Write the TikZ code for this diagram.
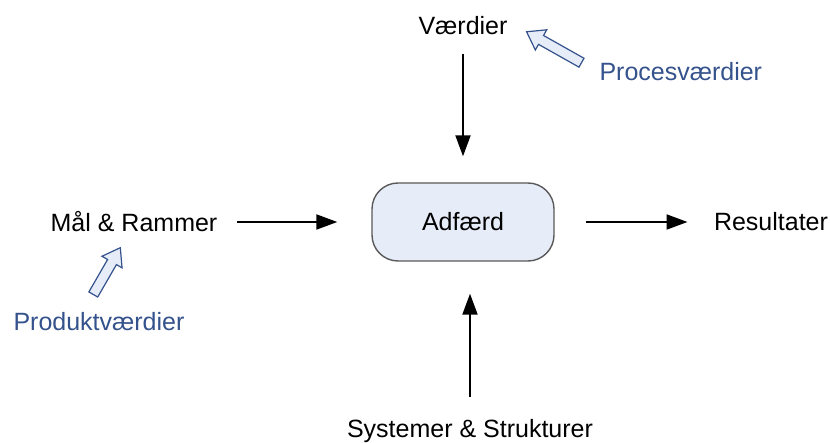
\documentclass[tikz,border=0pt]{standalone}
\usepackage{fontspec}
\setmainfont{Liberation Sans}
\usetikzlibrary{shapes,arrows.meta,positioning}

\definecolor{boxfill}{RGB}{230,236,248}
\definecolor{valblue}{RGB}{52,82,140}

\begin{document}
\begin{tikzpicture}[x=1pt,y=-1pt,
                    every node/.style={font=\fontsize{25}{30}\selectfont},
                    val/.style={anchor=base west,text=valblue},
                    flow/.style={line width=2pt,-{Triangle[length=21pt,width=15pt]}},
                    core/.style={draw=black!65,line width=1.4pt,fill=boxfill,rounded corners=26pt,
                                 minimum width=182pt,minimum height=78pt},
                    hollow/.style={single arrow,draw=valblue,line width=1.2pt,fill=boxfill,inner sep=0pt,
                                   inner ysep=4.5pt,single arrow head extend=6.5pt,single arrow tip angle=70,anchor=tail}]
\useasboundingbox (0,0) rectangle (830,443);

\node[core] (adfaerd) at (463,222) {Adfærd};
\node (vaerdier) at (463,25.5) {Værdier};
\node (maal) at (134,222) {Mål \& Rammer};
\node (resultat) at (771,222) {Resultater};
\node (systemer) at (470,431) {Systemer \& Strukturer};

\node[val] (proces) at (596,81) {Procesværdier};
\node[val] (produkt) at (10,331) {Produktværdier};
\node[hollow,minimum height=63pt,rotate=150.6] (procpil) at (582,63) {};
\node[hollow,minimum height=54pt,rotate=60] (prodpil) at (93,295) {};

% flows into and out of the box
\draw[flow,shorten <=15.5pt,shorten >=26pt] (vaerdier) -- (adfaerd);
\draw[flow,shorten <=16pt,shorten >=34pt] (maal) -- (adfaerd);
\draw[flow,shorten <=31pt,shorten >=23pt] (adfaerd) -- (resultat);
\draw[flow,shorten <=19pt,shorten >=32pt] (systemer) -- (systemer |- adfaerd.south);
\end{tikzpicture}
\end{document}
